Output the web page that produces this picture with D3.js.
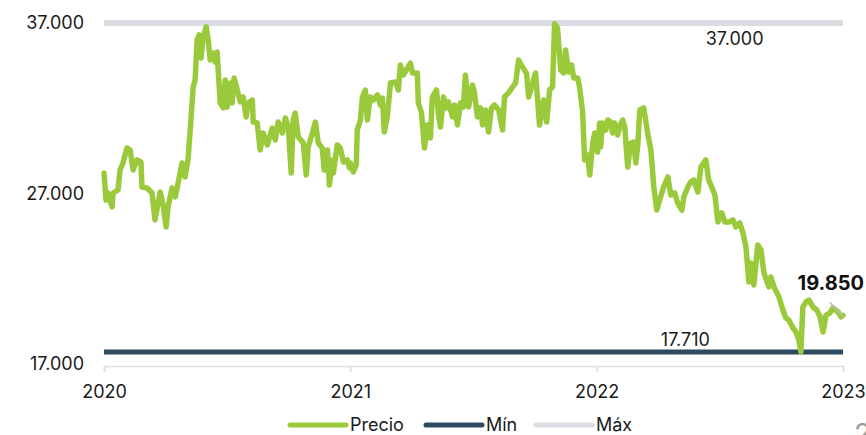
<!DOCTYPE html>
<html>
<head>
<meta charset="utf-8">
<script src="https://cdn.jsdelivr.net/npm/d3@7"></script>
<style>
  html, body { margin: 0; padding: 0; background: #fff; }
  svg { display: block; font-family: Inter, "Open Sans", sans-serif; }
</style>
</head>
<body>
<div id="vis"></div>
<script>
// fechas en años decimales, precios
var fechas = [
  2020.000, 2020.008, 2020.016, 2020.033, 2020.037, 2020.057, 2020.065, 2020.077, 2020.093, 2020.106,
  2020.118, 2020.134, 2020.150, 2020.154, 2020.175, 2020.195, 2020.207, 2020.228, 2020.240, 2020.252,
  2020.260, 2020.276, 2020.289, 2020.301, 2020.317, 2020.329, 2020.341, 2020.350, 2020.362, 2020.370,
  2020.378, 2020.386, 2020.394, 2020.402, 2020.415, 2020.423, 2020.431, 2020.443, 2020.451, 2020.459,
  2020.472, 2020.484, 2020.492, 2020.500, 2020.512, 2020.520, 2020.528, 2020.541, 2020.553, 2020.565,
  2020.577, 2020.585, 2020.602, 2020.606, 2020.622, 2020.634, 2020.646, 2020.663, 2020.683, 2020.695,
  2020.707, 2020.724, 2020.736, 2020.748, 2020.760, 2020.768, 2020.776, 2020.789, 2020.809, 2020.821,
  2020.829, 2020.846, 2020.858, 2020.870, 2020.886, 2020.894, 2020.907, 2020.915, 2020.927, 2020.931,
  2020.947, 2020.959, 2020.972, 2020.988, 2020.996, 2021.000, 2021.012, 2021.024, 2021.028, 2021.041,
  2021.049, 2021.061, 2021.069, 2021.081, 2021.093, 2021.110, 2021.122, 2021.130, 2021.138, 2021.150,
  2021.163, 2021.183, 2021.195, 2021.203, 2021.215, 2021.232, 2021.244, 2021.252, 2021.272, 2021.276,
  2021.289, 2021.301, 2021.313, 2021.325, 2021.333, 2021.350, 2021.358, 2021.366, 2021.378, 2021.390,
  2021.398, 2021.415, 2021.423, 2021.435, 2021.447, 2021.459, 2021.467, 2021.480, 2021.496, 2021.504,
  2021.516, 2021.528, 2021.537, 2021.549, 2021.561, 2021.573, 2021.585, 2021.602, 2021.618, 2021.626,
  2021.642, 2021.659, 2021.671, 2021.683, 2021.699, 2021.715, 2021.724, 2021.740, 2021.752, 2021.768,
  2021.785, 2021.797, 2021.809, 2021.821, 2021.829, 2021.841, 2021.854, 2021.866, 2021.874, 2021.886,
  2021.898, 2021.907, 2021.923, 2021.931, 2021.943, 2021.951, 2021.963, 2021.972, 2021.984, 2021.992,
  2022.004, 2022.012, 2022.016, 2022.024, 2022.037, 2022.045, 2022.057, 2022.065, 2022.073, 2022.085,
  2022.093, 2022.106, 2022.114, 2022.126, 2022.138, 2022.150, 2022.159, 2022.167, 2022.175, 2022.191,
  2022.207, 2022.220, 2022.232, 2022.244, 2022.256, 2022.272, 2022.289, 2022.301, 2022.317, 2022.329,
  2022.346, 2022.354, 2022.370, 2022.382, 2022.394, 2022.411, 2022.423, 2022.443, 2022.455, 2022.472,
  2022.480, 2022.492, 2022.508, 2022.520, 2022.537, 2022.553, 2022.565, 2022.581, 2022.593, 2022.606,
  2022.618, 2022.626, 2022.638, 2022.654, 2022.667, 2022.679, 2022.699, 2022.707, 2022.720, 2022.740,
  2022.756, 2022.768, 2022.780, 2022.797, 2022.809, 2022.821, 2022.829, 2022.837, 2022.850, 2022.862,
  2022.878, 2022.894, 2022.907, 2022.919, 2022.931, 2022.947, 2022.959, 2022.980, 2022.992, 2023.000
];
var precios = [
  28200, 26620, 27030, 26210, 27030, 27210, 28380, 28790, 29670, 29550,
  28380, 28970, 28850, 27380, 27320, 27030, 25450, 27090, 26330, 25040,
  26210, 27320, 26800, 27620, 28790, 27970, 28970, 30720, 33250, 33660,
  36000, 36300, 34950, 36180, 36770, 36000, 34830, 35240, 34710, 35300,
  32310, 32020, 33660, 32070, 33480, 32310, 33770, 33070, 32370, 32660,
  31490, 32310, 32480, 31190, 31140, 29550, 30550, 29850, 30840, 30140,
  31190, 30550, 31430, 30900, 28200, 31310, 31720, 30310, 29960, 28090,
  29730, 30550, 31190, 29960, 29670, 28380, 29550, 27500, 28970, 28200,
  29850, 29670, 28850, 28970, 28500, 28790, 28260, 28670, 30720, 31310,
  32660, 33070, 31310, 32660, 32480, 32780, 32190, 32600, 30610, 31490,
  33480, 33540, 33070, 34540, 33950, 34360, 34650, 34070, 34070, 32310,
  31720, 29670, 31020, 30260, 32660, 33070, 31600, 30900, 32660, 32020,
  32370, 31490, 32190, 31020, 32310, 32070, 33950, 32070, 33360, 32900,
  31490, 32020, 31020, 31900, 30610, 32020, 32190, 31900, 30720, 32660,
  32900, 33250, 33480, 34830, 34420, 34070, 32660, 33480, 34070, 31020,
  32480, 31190, 33070, 33250, 36950, 36710, 34240, 34070, 35420, 34130,
  34540, 33770, 33770, 33190, 31780, 28970, 29260, 28090, 29960, 30550,
  29430, 31140, 29730, 31140, 30720, 31310, 31190, 30550, 31140, 30430,
  30900, 31310, 30900, 28550, 29960, 30020, 28790, 29850, 31900, 32020,
  30550, 29550, 27380, 26030, 26620, 27380, 27970, 26910, 27030, 26440,
  26030, 26800, 27380, 27680, 27790, 27090, 28550, 28970, 27790, 27210,
  26910, 25330, 25860, 25330, 25330, 25450, 25040, 25270, 24740, 23860,
  21810, 22920, 21630, 23980, 23690, 22340, 21520, 22100, 21520, 20930,
  20170, 19700, 19580, 19110, 18880, 18410, 17710, 20340, 20640, 20750,
  20340, 20170, 19760, 18880, 19870, 19990, 20290, 20050, 19760, 19850
];
var precioMin = 17710;
var precioMax = 37000;
var anios = [2020, 2021, 2022, 2023];
var ticksY = [17000, 27000, 37000];
var series = ["Precio", "Mín", "Máx"];
var colores = ["#9aca3c", "#2c4a60", "#d9dce0"];

var W = 866, H = 435;
var fmt = d3.format(",.0f");
var miles = function (v) { return fmt(v).replace(/,/g, "."); };

var x = d3.scaleLinear().domain([2020, 2023]).range([104, 843]);
var y = d3.scaleLinear().domain([17000, 37000]).range([364, 23]);

var svg = d3.select("#vis").append("svg").attr("width", W).attr("height", H);

// eje x
var ejeX = svg.append("g").attr("transform", "translate(0," + (y(17000) + 2) + ")")
  .call(d3.axisBottom(x).tickValues(anios).tickFormat(d3.format("d")).tickSize(6).tickPadding(13));
ejeX.select(".domain").attr("stroke", "#dedede").attr("stroke-width", 1.5);
ejeX.selectAll(".tick line").attr("stroke", "#dedede").attr("stroke-width", 1.5);
ejeX.selectAll("text").attr("fill", "#1a1a1a").style("font-size", "18px")
  .style("font-family", "Inter, sans-serif");

// eje y
var ejeY = svg.append("g").attr("transform", "translate(84,0)")
  .call(d3.axisLeft(y).tickValues(ticksY).tickFormat(miles).tickSize(0).tickPadding(0));
ejeY.select(".domain").remove();
ejeY.selectAll("text").attr("fill", "#1a1a1a").style("font-size", "18px")
  .style("font-family", "Inter, sans-serif");

// máx y mín
svg.append("line").attr("x1", x(2020)).attr("x2", x(2023))
  .attr("y1", y(precioMax)).attr("y2", y(precioMax))
  .attr("stroke", colores[2]).attr("stroke-width", 6);
svg.append("line").attr("x1", x(2020)).attr("x2", x(2023))
  .attr("y1", y(precioMin)).attr("y2", y(precioMin))
  .attr("stroke", colores[1]).attr("stroke-width", 5);

// precio
var datos = fechas.map(function (f, i) { return [f, precios[i]]; });
svg.append("path").datum(datos)
  .attr("d", d3.line().x(function (d) { return x(d[0]); }).y(function (d) { return y(d[1]); }))
  .attr("fill", "none").attr("stroke", colores[0]).attr("stroke-width", 5.5)
  .attr("stroke-linejoin", "round").attr("stroke-linecap", "round");

// etiquetas
svg.append("text").attr("x", x(2022.56)).attr("y", y(precioMax) + 22)
  .attr("text-anchor", "middle").style("font-size", "18px").attr("fill", "#1a1a1a")
  .text(miles(precioMax));
svg.append("text").attr("x", x(2022.36)).attr("y", y(precioMin) - 6)
  .attr("text-anchor", "middle").style("font-size", "18px").attr("fill", "#1a1a1a")
  .text(miles(precioMin));

var ultimo = datos[datos.length - 1];
svg.append("line").attr("x1", x(2022.947)).attr("y1", y(ultimo[1]) - 13)
  .attr("x2", x(ultimo[0])).attr("y2", y(ultimo[1]) + 1)
  .attr("stroke", "#bbb").attr("stroke-width", 1.5);
svg.append("text").attr("x", 864).attr("y", y(ultimo[1]) - 25)
  .attr("text-anchor", "end").style("font-size", "20px").style("font-weight", "bold")
  .attr("fill", "#111").text(miles(ultimo[1]));

// leyenda
var leyX = [290, 426, 536];
var ley = svg.append("g").attr("transform", "translate(0,425)");
series.forEach(function (s, i) {
  ley.append("line").attr("x1", leyX[i]).attr("x2", leyX[i] + 56).attr("y1", 0).attr("y2", 0)
    .attr("stroke", colores[i]).attr("stroke-width", 5).attr("stroke-linecap", "round");
  ley.append("text").attr("x", leyX[i] + 60).attr("y", 6)
    .style("font-size", "18px").attr("fill", "#1a1a1a").text(s);
});

// número de página
svg.append("text").attr("x", 854).attr("y", 444).style("font-size", "28px")
  .attr("fill", "#9a9a9a").text("2");
</script>
</body>
</html>
